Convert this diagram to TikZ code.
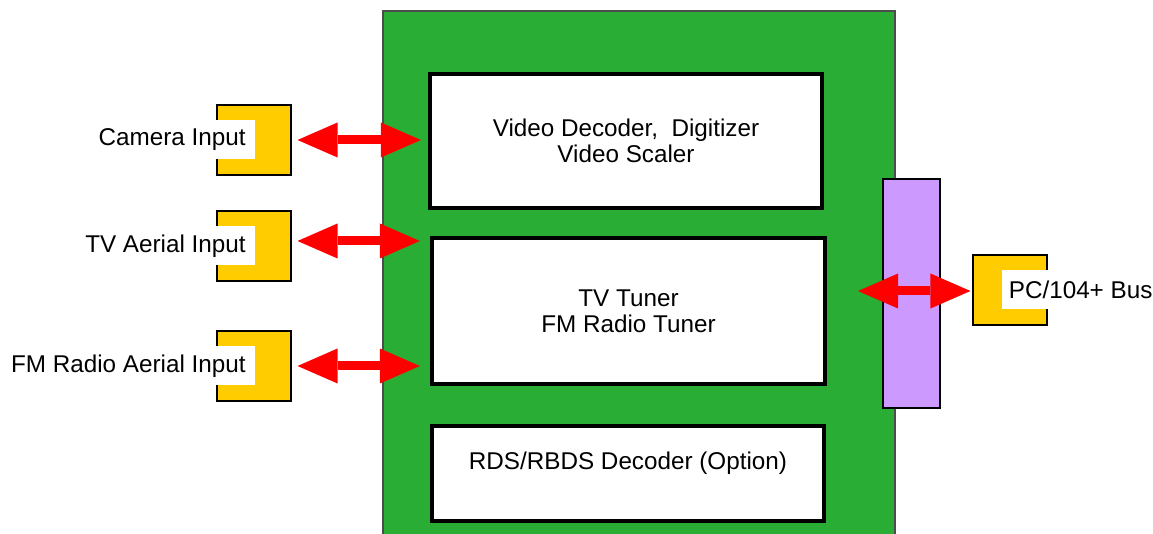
\documentclass[tikz,border=0pt]{standalone}
\usepackage{fontspec}
\setmainfont{Liberation Sans}
\usetikzlibrary{arrows.meta}
\usetikzlibrary{positioning}
\definecolor{boardgreen}{RGB}{41,173,52}
\definecolor{jackyellow}{RGB}{255,204,0}
\definecolor{buspurple}{RGB}{204,153,255}
\tikzset{
    block/.style={
        draw,
        line width=2.4pt,
        fill=white,
        align=center,
        font=\fontsize{13.8}{14.8}\selectfont
    },
    jack/.style={
        draw,
        line width=0.6pt,
        fill=jackyellow,
        minimum width=1.48cm,
        minimum height=1.40cm,
        inner sep=0pt
    },
    jacklabel/.style={
        fill=white,
        inner xsep=0.18cm,
        inner ysep=0pt,
        minimum height=0.78cm,
        font=\fontsize{13.8}{14.8}\selectfont
    },
    signal/.style={
        draw=red,
        line width=0.18cm,
        {Triangle[length=0.8cm, width=0.7cm, line width=0pt]}-{Triangle[length=0.8cm, width=0.7cm, line width=0pt]}
    }
}

\begin{document}
\begin{tikzpicture}
  \useasboundingbox (0,0) rectangle (23.06,10.68);

  % Board
  \draw[line width=0.6pt, draw=black!70, fill=boardgreen] (7.66,0) -- (7.66,10.46) -- (17.90,10.46) -- (17.90,0);

  % Function blocks
  \node[block, minimum width=7.84cm, minimum height=2.68cm] (video) at (12.52,7.86) {Video Decoder,\ \ Digitizer\\Video Scaler};
  \node[block, minimum width=7.86cm, minimum height=2.92cm] (tuner) at (12.57,4.46) {TV Tuner\\FM Radio Tuner};
  \node[block, minimum width=7.84cm, minimum height=1.90cm] (rds) at (12.56,1.21) {};
  \node[font=\fontsize{13.8}{14.8}\selectfont] (rdstext) at ([yshift=0.2cm]rds.center) {RDS/RBDS Decoder (Option)};

  % Bus connector on the board
  \node[draw, line width=0.6pt, fill=buspurple, minimum width=1.14cm, minimum height=4.58cm] (pcbar) at (18.23,4.81) {};

  % Input jacks
  \node[jack] (camjack) at (5.08,7.88) {};
  \node[jacklabel, anchor=east] (camlabel) at (5.10,7.88) {Camera Input};

  \node[jack] (tvjack) at (5.08,5.76) {};
  \node[jacklabel, anchor=east] (tvlabel) at (5.10,5.76) {TV Aerial Input};

  \node[jack] (fmjack) at (5.08,3.36) {};
  \node[jacklabel, anchor=east] (fmlabel) at (5.10,3.36) {FM Radio Aerial Input};

  % Bus jack
  \node[jack] (busjack) at (20.20,4.88) {};
  \node[jacklabel, anchor=west, inner xsep=0.13cm] (buslabel) at (20.04,4.88) {PC/104+ Bus};

  % Signal arrows
  \draw[signal, shorten <=0.12cm, shorten >=0.14cm] (camjack.east) -- (camjack.east -| video.west);
  \draw[signal, shorten <=0.12cm, shorten >=0.2cm] ([yshift=0.1cm]tvjack.east) -- ([yshift=0.1cm]tvjack.east -| tuner.west);
  \draw[signal, shorten <=0.12cm, shorten >=0.2cm] (fmjack.east) -- (fmjack.east -| tuner.west);

  \coordinate (busend) at (17.16,4.86);
  \draw[signal, shorten >=0.04cm] (busend) -- (busend -| busjack.west);
\end{tikzpicture}
\end{document}
